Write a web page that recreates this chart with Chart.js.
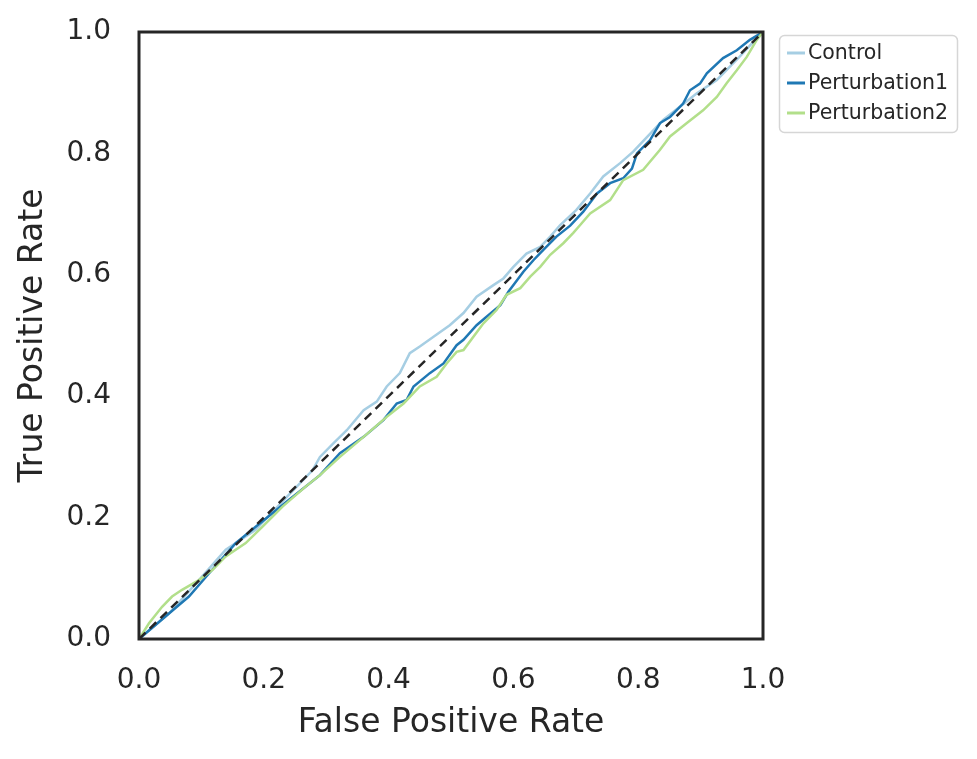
<!DOCTYPE html>
<html>
<head>
<meta charset="utf-8">
<script src="https://cdn.jsdelivr.net/npm/chart.js@4.4.1/dist/chart.umd.min.js"></script>
<style>
  html, body { margin: 0; padding: 0; background: #ffffff; }
  #wrap { width: 977px; height: 759px; }
</style>
</head>
<body>
<div id="wrap"><canvas id="roc" width="977" height="759"></canvas></div>
<script>
const seriesLabels = ['Control', 'Perturbation1', 'Perturbation2'];
const seriesColors = ['#a6cee3', '#1f78b4', '#b2df8a'];

const controlFpr = [0, 0.048, 0.096, 0.139, 0.187, 0.235, 0.278, 0.290, 0.311, 0.333, 0.360, 0.381, 0.397, 0.418, 0.434, 0.450, 0.472, 0.498, 0.520, 0.541, 0.568, 0.584, 0.600, 0.621, 0.643, 0.659, 0.675, 0.701, 0.723, 0.744, 0.771, 0.792, 0.840, 0.894, 0.926, 0.963, 0.990, 1];
const controlTpr = [0, 0.042, 0.097, 0.147, 0.180, 0.232, 0.278, 0.300, 0.322, 0.344, 0.377, 0.391, 0.416, 0.438, 0.471, 0.482, 0.498, 0.517, 0.537, 0.564, 0.583, 0.594, 0.613, 0.635, 0.646, 0.663, 0.682, 0.707, 0.734, 0.762, 0.784, 0.803, 0.855, 0.899, 0.921, 0.960, 0.990, 1];

const pert1Fpr = [0, 0.048, 0.080, 0.112, 0.155, 0.187, 0.240, 0.290, 0.322, 0.360, 0.392, 0.413, 0.429, 0.440, 0.466, 0.488, 0.509, 0.520, 0.541, 0.557, 0.579, 0.592, 0.616, 0.632, 0.648, 0.669, 0.691, 0.712, 0.734, 0.755, 0.776, 0.790, 0.798, 0.819, 0.835, 0.851, 0.872, 0.883, 0.899, 0.910, 0.936, 0.958, 0.979, 1];
const pert1Tpr = [0, 0.042, 0.070, 0.108, 0.158, 0.185, 0.229, 0.270, 0.306, 0.333, 0.361, 0.388, 0.394, 0.416, 0.438, 0.454, 0.484, 0.493, 0.517, 0.531, 0.550, 0.572, 0.605, 0.624, 0.641, 0.663, 0.681, 0.704, 0.734, 0.751, 0.759, 0.775, 0.800, 0.822, 0.850, 0.860, 0.882, 0.904, 0.915, 0.932, 0.957, 0.970, 0.987, 1];

const pert2Fpr = [0, 0.016, 0.037, 0.053, 0.069, 0.096, 0.118, 0.139, 0.171, 0.198, 0.230, 0.267, 0.290, 0.322, 0.360, 0.397, 0.424, 0.450, 0.477, 0.493, 0.509, 0.520, 0.552, 0.573, 0.589, 0.611, 0.627, 0.643, 0.659, 0.680, 0.696, 0.707, 0.723, 0.755, 0.776, 0.808, 0.835, 0.851, 0.878, 0.904, 0.926, 0.942, 0.958, 0.974, 0.990, 1];
const pert2Tpr = [0, 0.026, 0.053, 0.070, 0.081, 0.097, 0.114, 0.136, 0.158, 0.185, 0.218, 0.251, 0.270, 0.300, 0.333, 0.366, 0.388, 0.416, 0.432, 0.454, 0.473, 0.476, 0.520, 0.542, 0.567, 0.578, 0.597, 0.613, 0.633, 0.652, 0.669, 0.682, 0.701, 0.723, 0.756, 0.773, 0.806, 0.828, 0.850, 0.871, 0.893, 0.916, 0.937, 0.959, 0.987, 1];

const chanceLine = [0, 1];
const tickValues = [0, 0.2, 0.4, 0.6, 0.8, 1.0];

const textColor = '#262626';
const fontFamily = '"DejaVu Sans", sans-serif';

function toPoints(xs, ys) {
    return xs.map((x, i) => ({ x: x, y: ys[i] }));
}

// spines on all four sides, like the seaborn white style
const framePlugin = {
    id: 'frame',
    afterDatasetsDraw(chart) {
        const { ctx, chartArea: a } = chart;
        ctx.save();
        ctx.strokeStyle = textColor;
        ctx.lineWidth = 3;
        ctx.strokeRect(a.left, a.top, a.right - a.left, a.bottom - a.top);
        ctx.restore();
    }
};

// legend box outside the axes, top right
const legendPlugin = {
    id: 'outsideLegend',
    afterDraw(chart) {
        const ctx = chart.ctx;
        const bx = 779.5, by = 35.5, bw = 178, bh = 97;
        ctx.save();
        ctx.beginPath();
        ctx.roundRect(bx, by, bw, bh, 5);
        ctx.fillStyle = 'rgba(255,255,255,0.8)';
        ctx.fill();
        ctx.strokeStyle = '#d6d6d6';
        ctx.lineWidth = 1.5;
        ctx.stroke();
        ctx.font = '20.5px ' + fontFamily;
        ctx.textBaseline = 'middle';
        ctx.fillStyle = textColor;
        seriesLabels.forEach((label, i) => {
            const y = 53 + i * 30;
            ctx.beginPath();
            ctx.moveTo(787, y);
            ctx.lineTo(805, y);
            ctx.strokeStyle = seriesColors[i];
            ctx.lineWidth = 3;
            ctx.stroke();
            ctx.fillText(label, 808, y + 1);
        });
        ctx.restore();
    }
};

const lineStyle = { borderWidth: 2.5, pointRadius: 0, fill: false, tension: 0 };

new Chart(document.getElementById('roc'), {
    type: 'line',
    data: {
        datasets: [
            { label: 'chance', data: toPoints(chanceLine, chanceLine), borderColor: textColor, borderDash: [9, 6], order: 0, ...lineStyle },
            { label: seriesLabels[2], data: toPoints(pert2Fpr, pert2Tpr), borderColor: seriesColors[2], order: 1, ...lineStyle },
            { label: seriesLabels[1], data: toPoints(pert1Fpr, pert1Tpr), borderColor: seriesColors[1], order: 2, ...lineStyle },
            { label: seriesLabels[0], data: toPoints(controlFpr, controlTpr), borderColor: seriesColors[0], order: 3, ...lineStyle }
        ]
    },
    options: {
        responsive: false,
        animation: false,
        devicePixelRatio: 1,
        layout: { padding: { left: 0, top: 32, right: 214, bottom: 0 } },
        plugins: { legend: { display: false }, tooltip: { enabled: false } },
        scales: {
            x: {
                type: 'linear', min: 0, max: 1,
                afterFit: (s) => { s.height = 120; s.paddingLeft = 0; s.paddingRight = 0; },
                afterBuildTicks: (s) => { s.ticks = tickValues.map(v => ({ value: v })); },
                grid: { display: false },
                border: { display: false },
                ticks: { color: textColor, font: { family: fontFamily, size: 28 }, padding: 17, maxRotation: 0, callback: (v) => v.toFixed(1) },
                title: { display: true, text: 'False Positive Rate', color: textColor, font: { family: fontFamily, size: 33 }, padding: { top: 0, bottom: 16 } }
            },
            y: {
                type: 'linear', min: 0, max: 1,
                afterFit: (s) => { s.width = 139; s.paddingTop = 0; s.paddingBottom = 0; },
                afterBuildTicks: (s) => { s.ticks = tickValues.map(v => ({ value: v })); },
                grid: { display: false },
                border: { display: false },
                ticks: { color: textColor, font: { family: fontFamily, size: 28 }, padding: 20, callback: (v) => v.toFixed(1) },
                // for a left-side title Chart.js offsets by padding.top
                title: { display: true, text: 'True Positive Rate', color: textColor, font: { family: fontFamily, size: 33 }, padding: { top: 14, bottom: 0 } }
            }
        }
    },
    plugins: [framePlugin, legendPlugin]
});
</script>
</body>
</html>
